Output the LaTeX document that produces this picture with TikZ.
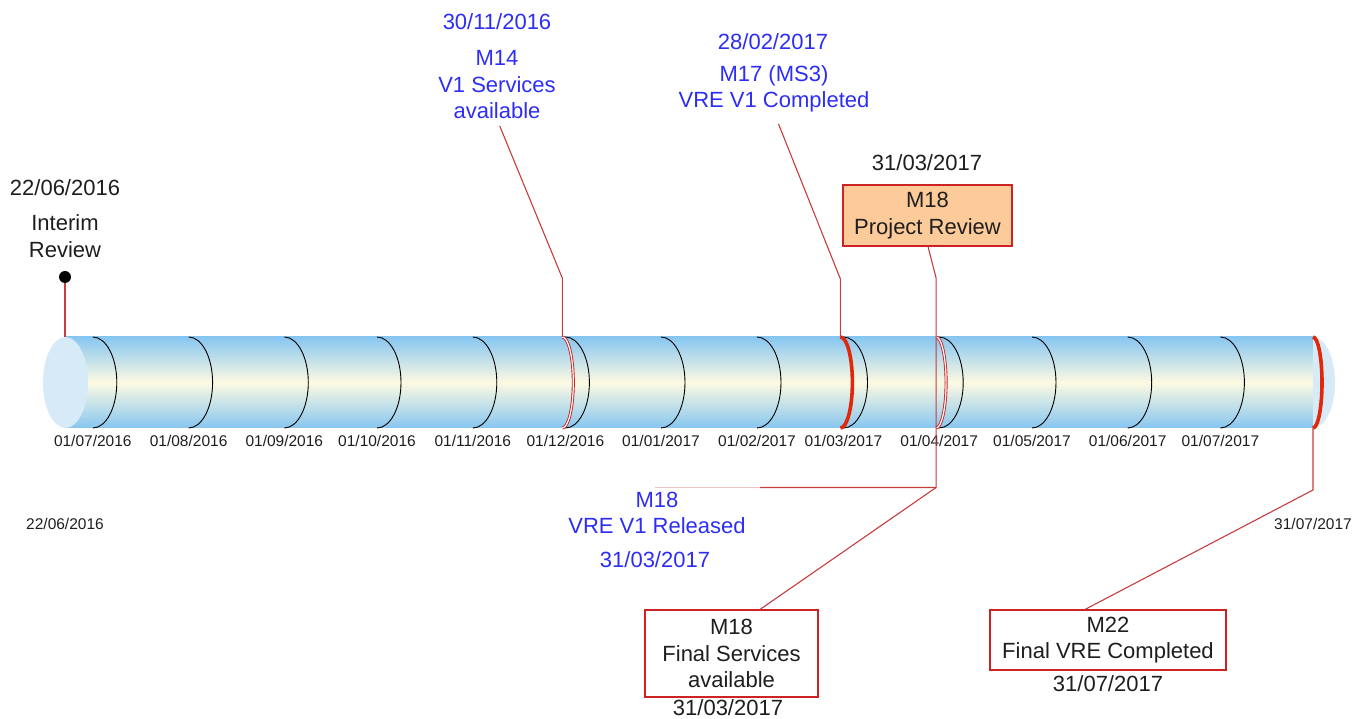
\documentclass[tikz,border=0pt]{standalone}
\usepackage{fontspec}
\setmainfont{Liberation Sans}
\definecolor{cylblue}{RGB}{135,198,240}
\definecolor{cylmid}{RGB}{253,250,226}
\definecolor{capblue}{RGB}{214,234,248}
\definecolor{msblue}{RGB}{45,45,245}
\definecolor{linered}{RGB}{200,60,60}
\definecolor{boxred}{RGB}{205,35,35}
\definecolor{boxorange}{RGB}{253,202,153}
\definecolor{txt}{RGB}{30,30,30}
\definecolor{markred}{RGB}{225,40,10}
\tikzset{
 big/.style={font=\fontsize{22}{26.5}\selectfont, inner sep=0pt, align=center, text=txt},
 bluetxt/.style={big, text=msblue},
 small/.style={font=\fontsize{15.5}{18}\selectfont, inner sep=0pt, text=txt},
 callout/.style={draw=linered, line width=1.1pt},
 msbox/.style={draw=boxred, line width=1.1pt, fill=white, big, inner sep=0pt},
 tickarc/.style={draw=black, line width=0.9pt},
 markdouble/.style={draw=boxred, double=white, double distance=1.2pt, line width=0.9pt},
 markthick/.style={draw=markred, line width=3.6pt},
}
\begin{document}
\begin{tikzpicture}[x=1pt,y=-1pt]
\useasboundingbox (0,0) rectangle (1353,719);
% cylinder body
\shade[top color=cylblue,bottom color=cylblue,middle color=cylmid] (65.5,337) rectangle (1313,428);
\fill[capblue] (1313,337) arc[start angle=-90,end angle=90,x radius=22,y radius=45.5] -- cycle;
\fill[capblue] (65.5,382.5) ellipse [x radius=22.5, y radius=45.5];
% month arcs and labels
\foreach \x/\d [count=\i] in {92.8/01\slash07\slash2016,188.6/01\slash08\slash2016,284.3/01\slash09\slash2016,377/01\slash10\slash2016,472.8/01\slash11\slash2016,565.4/01\slash12\slash2016,661/01\slash01\slash2017,757/01\slash02\slash2017,843.5/01\slash03\slash2017,939.2/01\slash04\slash2017,1032/01\slash05\slash2017,1127.7/01\slash06\slash2017,1220.4/01\slash07\slash2017}{
  \draw[tickarc] (\x,337) arc[start angle=-90,end angle=90,x radius=24,y radius=45.5];
  \node[small] (month\i) at (\x,441) {\d};
}
% milestone marks on the cylinder
\draw[markdouble] (562.3,337) arc[start angle=-90,end angle=90,x radius=11,y radius=45.5];
\draw[markthick] (840.4,337) arc[start angle=-90,end angle=90,x radius=12,y radius=45.5];
\draw[markdouble] (936.1,337) arc[start angle=-90,end angle=90,x radius=10,y radius=45.5];
\draw[markthick] (1313,337) arc[start angle=-90,end angle=90,x radius=9,y radius=45.5];
% end dates
\node[small] (startdate) at (65,524) {22/06/2016};
\node[small] (enddate) at (1313,524) {31/07/2017};
% Interim review
\node[big] (idate) at (65,188) {22/06/2016};
\node[big] (ilbl) at (65,236) {Interim\\Review};
\node[circle, fill=black, inner sep=0pt, minimum size=12pt] (idot) at (65,277) {};
\coordinate (icyl) at (65,337);
\draw[callout] (idot) -- (icyl);
% M14
\node[bluetxt] (m14date) at (497,22) {30/11/2016};
\node[bluetxt] (m14) at (497,85) {M14\\V1 Services\\available};
\coordinate (m14bend) at (562.3,278);
\coordinate (m14cyl) at (562.3,337);
\draw[callout, shorten <=7pt] (m14.south) -- (m14bend) -- (m14cyl);
% M17
\node[bluetxt] (m17date) at (773,42) {28/02/2017};
\node[bluetxt] (m17) at (774,89) {M17 (MS3)\\VRE V1 Completed};
\coordinate (m17bend) at (840.4,279);
\coordinate (m17cyl) at (840.4,337);
\draw[callout, shorten <=12pt] (m17.south) -- (m17bend) -- (m17cyl);
% M18 project review
\node[big] (prdate) at (927,163) {31/03/2017};
\node[msbox, fill=boxorange, minimum width=169pt, minimum height=61pt] (pr) at (927.5,215.5) {M18\\Project Review};
\coordinate (prbend) at (936.1,278);
\coordinate (relcorner) at (936.1,487.5);
\coordinate (relfade) at (760,487.5);
\coordinate (relend) at (655,487.5);
\draw[callout] ([xshift=0.5pt]pr.south) -- (prbend) -- (relcorner) -- (relfade);
\draw[callout, draw=linered!30] (relfade) -- (relend);
% M18 VRE V1 released
\node[bluetxt] (rel) at (657,513) {M18\\VRE V1 Released};
\node[bluetxt] (reldate) at (655,560) {31/03/2017};
% final services
\node[msbox, minimum width=173pt, minimum height=87pt] (fs) at (731.5,653.5) {M18\\Final Services\\available};
\node[big] (fsdate) at (728,708) {31/03/2017};
\draw[callout] ([xshift=28.5pt]fs.north) -- (relcorner);
% final VRE
\node[msbox, minimum width=236pt, minimum height=60pt] (fv) at (1108,640) {M22\\Final VRE Completed};
\node[big] (fvdate) at (1108,684) {31/07/2017};
\coordinate (fvbend) at (1313,490);
\coordinate (fvcyl) at (1313,428);
\draw[callout] ([xshift=-23pt]fv.north) -- (fvbend) -- (fvcyl);
\end{tikzpicture}
\end{document}
